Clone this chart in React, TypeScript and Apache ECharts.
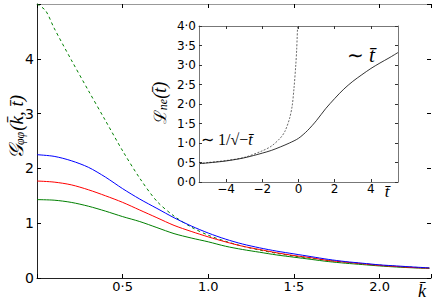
import React, { useEffect, useRef } from 'react';
import * as echarts from 'echarts';

// Main panel: G_phiphi(k, t) vs k
const kValues = [0, 0.1, 0.2, 0.3, 0.4, 0.5, 0.6, 0.7, 0.8, 0.9, 1.0, 1.1, 1.2, 1.3, 1.4, 1.5, 1.6, 1.7, 1.8, 1.9, 2.0, 2.1, 2.2, 2.29];
const blueValues = [2.25, 2.22, 2.14, 2.02, 1.84, 1.63, 1.44, 1.27, 1.10, 0.95, 0.82, 0.71, 0.62, 0.55, 0.49, 0.44, 0.39, 0.34, 0.30, 0.27, 0.24, 0.22, 0.20, 0.185];
const redValues = [1.77, 1.75, 1.70, 1.61, 1.50, 1.38, 1.24, 1.10, 0.96, 0.85, 0.75, 0.66, 0.58, 0.52, 0.46, 0.41, 0.37, 0.32, 0.29, 0.26, 0.23, 0.21, 0.19, 0.18];
const greenValues = [1.43, 1.42, 1.38, 1.31, 1.22, 1.12, 1.03, 0.92, 0.81, 0.73, 0.66, 0.58, 0.52, 0.47, 0.42, 0.38, 0.34, 0.30, 0.27, 0.245, 0.22, 0.20, 0.185, 0.175];
const kDashed = [0, 0.05, 0.1, 0.2, 0.3, 0.4, 0.5, 0.6, 0.7, 0.8, 0.9, 1.0, 1.1, 1.2, 1.3, 1.4, 1.5, 1.6, 1.7, 1.8, 1.9, 2.0, 2.1, 2.2, 2.29];
const dashedValues = [5.0, 4.88, 4.56, 3.98, 3.42, 2.87, 2.32, 1.82, 1.40, 1.13, 0.93, 0.78, 0.67, 0.58, 0.51, 0.45, 0.40, 0.36, 0.32, 0.29, 0.26, 0.235, 0.21, 0.195, 0.18];
const kTickLabels: Record<string, string> = { '0.5': '0·5', '1': '1.0', '1.5': '1·5', '2': '2.0' };
const gTickLabels: Record<string, string> = { '0': '0', '1': '1', '2': '2', '3': '3', '4': '4' };

// Inset: L_ne(t) vs t
const tSolid = [-5.5, -5, -4, -3, -2, -1.5, -1, -0.5, 0, 0.5, 1, 1.5, 2, 2.5, 3, 3.5, 4, 4.5, 5, 5.5];
const lSolid = [0.47, 0.49, 0.54, 0.62, 0.74, 0.81, 0.90, 1.00, 1.12, 1.32, 1.58, 1.88, 2.14, 2.38, 2.58, 2.75, 2.91, 3.05, 3.18, 3.32];
const tDotted = [-5.5, -5, -4, -3, -2, -1.5, -1, -0.75, -0.5, -0.35, -0.25, -0.15, -0.1, -0.05];
const lDotted = [0.47, 0.50, 0.55, 0.63, 0.80, 0.92, 1.13, 1.30, 1.62, 1.95, 2.40, 3.00, 3.40, 4.0];
const tTicks = [-4, -2, 0, 2, 4];

const zip = (xs: number[], ys: number[]) => xs.map((x, i) => [x, ys[i]]);
const fmtDot = (v: number) => v.toFixed(1).replace('.', '·');

export default function App() {
  const ref = useRef<HTMLDivElement>(null);
  useEffect(() => {
    const chart = echarts.init(ref.current!, null, { renderer: 'svg' });
    const hidden = { show: false };
    const mainTick = { inside: true, length: 4, lineStyle: { color: '#000' } };
    const insetTick = { inside: true, length: 3, lineStyle: { color: '#333' } };
    const insetLine = { show: true, onZero: false, lineStyle: { color: '#777', width: 1 } };
    const serif = 'Liberation Serif';
    chart.setOption({
      animation: false,
      backgroundColor: '#fff',
      grid: [
        { left: 37, top: 4, width: 394, height: 274, containLabel: false },
        { left: 199, top: 26, width: 199, height: 156, show: true, backgroundColor: '#fff', borderWidth: 0 },
      ],
      xAxis: [
        {
          type: 'value', gridIndex: 0, min: 0, max: 2.3, interval: 0.5, position: 'bottom',
          axisLine: { show: true, onZero: false, lineStyle: { color: '#222', width: 1 } },
          axisTick: mainTick, splitLine: hidden,
          axisLabel: { margin: 2, fontFamily: 'DejaVu Sans', fontSize: 13, color: '#000', formatter: (v: number) => kTickLabels[String(v)] ?? '' },
        },
        {
          type: 'value', gridIndex: 0, min: 0, max: 2.3, interval: 0.5, position: 'top',
          axisLine: { show: true, onZero: false, lineStyle: { color: '#999', width: 1 } },
          axisTick: mainTick, splitLine: hidden, axisLabel: hidden,
        },
        {
          type: 'value', gridIndex: 1, min: -5.5, max: 5.5, position: 'bottom', z: 8,
          axisLine: insetLine,
          axisTick: { ...insetTick, customValues: tTicks }, splitLine: hidden,
          axisLabel: { margin: 1, fontFamily: 'DejaVu Sans', fontSize: 12, color: '#000', customValues: tTicks, formatter: (v: number) => (v < 0 ? '−' + Math.abs(v) : String(v)) },
        },
        {
          type: 'value', gridIndex: 1, min: -5.5, max: 5.5, position: 'top', z: 8,
          axisLine: insetLine,
          axisTick: { ...insetTick, customValues: tTicks }, splitLine: hidden, axisLabel: hidden,
        },
      ],
      yAxis: [
        {
          type: 'value', gridIndex: 0, min: 0, max: 5, interval: 1, position: 'left',
          axisLine: { show: true, onZero: false, lineStyle: { color: '#222', width: 1 } },
          axisTick: mainTick, splitLine: hidden,
          axisLabel: { margin: 3, fontFamily: 'DejaVu Sans', fontSize: 14, color: '#000', formatter: (v: number) => gTickLabels[String(v)] ?? '' },
        },
        {
          type: 'value', gridIndex: 0, min: 0, max: 5, interval: 1, position: 'right',
          axisLine: { show: false, onZero: false }, axisTick: mainTick, splitLine: hidden, axisLabel: hidden,
        },
        {
          type: 'value', gridIndex: 1, min: 0, max: 4, interval: 0.5, position: 'left', z: 8,
          axisLine: insetLine,
          axisTick: insetTick, splitLine: hidden,
          axisLabel: { margin: 3, fontFamily: 'DejaVu Sans', fontSize: 12, color: '#000', formatter: (v: number) => fmtDot(v) },
        },
        {
          type: 'value', gridIndex: 1, min: 0, max: 4, interval: 0.5, position: 'right', z: 8,
          axisLine: insetLine,
          axisTick: insetTick, splitLine: hidden, axisLabel: hidden,
        },
      ],
      series: [
        { type: 'line', xAxisIndex: 0, yAxisIndex: 0, data: zip(kDashed, dashedValues), showSymbol: false, smooth: 0.3, lineStyle: { color: '#008000', width: 1, type: [3, 3] } },
        { type: 'line', xAxisIndex: 0, yAxisIndex: 0, data: zip(kValues, greenValues), showSymbol: false, smooth: 0.3, lineStyle: { color: '#008000', width: 1 } },
        { type: 'line', xAxisIndex: 0, yAxisIndex: 0, data: zip(kValues, redValues), showSymbol: false, smooth: 0.3, lineStyle: { color: '#ff0000', width: 1 } },
        { type: 'line', xAxisIndex: 0, yAxisIndex: 0, data: zip(kValues, blueValues), showSymbol: false, smooth: 0.3, lineStyle: { color: '#0000ff', width: 1 } },
        { type: 'line', xAxisIndex: 2, yAxisIndex: 2, z: 6, data: zip(tDotted, lDotted), showSymbol: false, smooth: 0.3, clip: true, lineStyle: { color: '#444', width: 0.8, type: [2, 1.5] } },
        { type: 'line', xAxisIndex: 2, yAxisIndex: 2, z: 6, data: zip(tSolid, lSolid), showSymbol: false, smooth: 0.3, lineStyle: { color: '#000', width: 0.8 } },
      ],
      graphic: [
        {
          type: 'text', x: 15, y: 127, rotation: Math.PI / 2,
          style: {
            text: '{g|𝒢}{s|φφ}{p|(k̄, t̄)}', align: 'center', verticalAlign: 'middle',
            rich: {
              g: { fontFamily: serif, fontStyle: 'italic', fontSize: 20, lineHeight: 22, fill: '#000', verticalAlign: 'bottom' },
              s: { fontFamily: serif, fontStyle: 'italic', fontSize: 12, lineHeight: 22, fill: '#000', verticalAlign: 'bottom', padding: [0, 1, 0, 0] },
              p: { fontFamily: serif, fontStyle: 'italic', fontSize: 19, lineHeight: 22, fill: '#000', verticalAlign: 'bottom' },
            },
          },
        },
        { type: 'text', x: 422, y: 291, style: { text: 'k̄', fontFamily: serif, fontStyle: 'italic', fontSize: 18, fill: '#000', align: 'center', verticalAlign: 'middle' } },
        {
          type: 'text', x: 159, y: 103, rotation: Math.PI / 2, z: 10,
          style: {
            text: '{g|ℒ}{s|ne}{p|(t̄)}', align: 'center', verticalAlign: 'middle',
            rich: {
              g: { fontFamily: 'DejaVu Serif', fontSize: 17, lineHeight: 19, fill: '#000', verticalAlign: 'bottom' },
              s: { fontFamily: serif, fontStyle: 'italic', fontSize: 12, lineHeight: 19, fill: '#000', verticalAlign: 'bottom' },
              p: { fontFamily: serif, fontStyle: 'italic', fontSize: 18, lineHeight: 19, fill: '#000', verticalAlign: 'bottom' },
            },
          },
        },
        { type: 'text', x: 387, y: 191, z: 10, style: { text: 't̄', fontFamily: serif, fontStyle: 'italic', fontSize: 17, fill: '#000', align: 'center', verticalAlign: 'middle' } },
        {
          type: 'text', x: 361, y: 55, z: 10,
          style: {
            text: '{a|∼ }{b|t̄}', align: 'center', verticalAlign: 'middle',
            rich: {
              a: { fontFamily: serif, fontSize: 20, fill: '#000' },
              b: { fontFamily: serif, fontStyle: 'italic', fontSize: 21, fill: '#000' },
            },
          },
        },
        {
          type: 'text', x: 201, y: 139, z: 10,
          style: {
            text: '{a|∼ 1/√−}{b|t̄}', align: 'left', verticalAlign: 'middle',
            rich: {
              a: { fontFamily: serif, fontSize: 16, fill: '#000' },
              b: { fontFamily: serif, fontStyle: 'italic', fontSize: 16, fill: '#000' },
            },
          },
        },
      ],
    });
    return () => chart.dispose();
  }, []);
  return <div ref={ref} style={{ position: 'fixed', left: 0, top: 0, width: 436, height: 307 }} />;
}
